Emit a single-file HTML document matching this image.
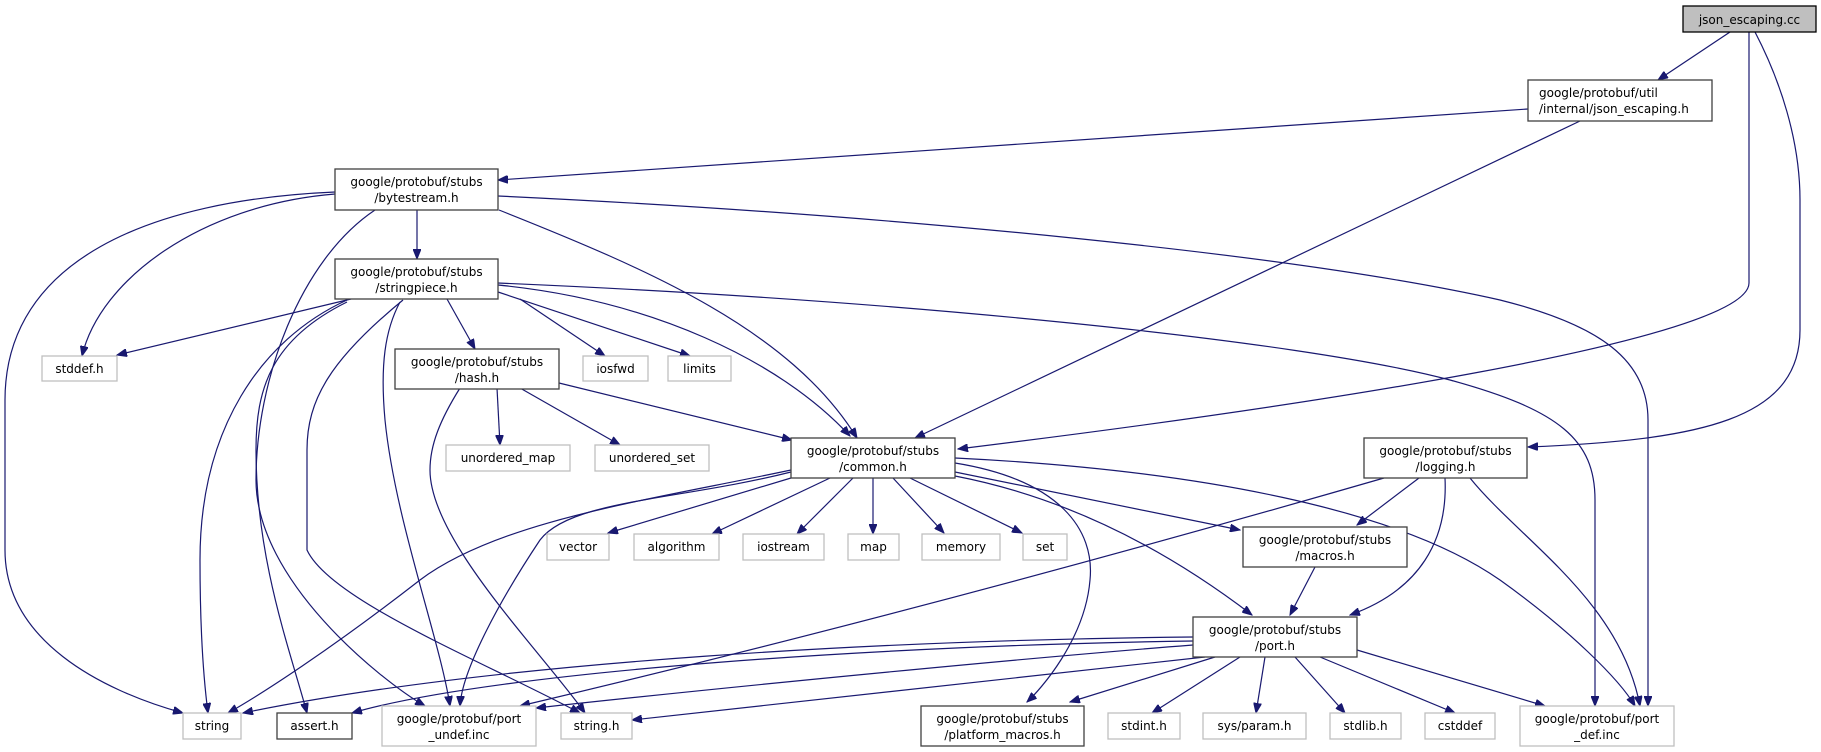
<!DOCTYPE html>
<html><head><meta charset="utf-8"><style>
html,body{margin:0;padding:0;background:#fff;}
svg{display:block;}
text{font-family:"DejaVu Sans","Liberation Sans",sans-serif;font-size:12px;fill:#000;}
.e{fill:none;stroke:#191970;stroke-width:1.2;marker-end:url(#a);}
.n{fill:#fff;stroke:#404040;stroke-width:1.3;}
.g{fill:#fff;stroke:#bfbfbf;stroke-width:1.3;}
</style></head><body>
<svg width="1821" height="752" viewBox="0 0 1821 752" xmlns="http://www.w3.org/2000/svg">
<defs><marker id="a" markerUnits="userSpaceOnUse" markerWidth="11" markerHeight="8" refX="10" refY="4" orient="auto"><path d="M0,0 L10,4 L0,8 z" fill="#191970" stroke="#191970"/></marker></defs>

<!-- edges -->
<path class="e" d="M1730,32 L1658,80"/>
<path class="e" d="M1749,32 L1749,283 C1749,340 1300,407 958,449"/>
<path class="e" d="M1755,32 C1780,80 1800,140 1800,200 L1800,330 C1800,420 1700,440 1528,447"/>
<path class="e" d="M1528,109 L498,180"/>
<path class="e" d="M1580,121 L915,438"/>

<path class="e" d="M417,210 L417,259"/>
<path class="e" d="M335,192 C150,200 5,260 5,400 L5,550 C5,640 100,690 183,713"/>
<path class="e" d="M335,194 C200,205 100,280 82,356"/>
<path class="e" d="M375,210 C300,260 256,380 256,480 C256,580 380,680 425,706"/>
<path class="e" d="M499,210 C650,270 790,330 857,438"/>
<path class="e" d="M498,196 C900,215 1300,255 1500,300 C1600,325 1648,360 1648,420 L1648,706"/>

<path class="e" d="M351,299 L117,355"/>
<path class="e" d="M347,300 C260,340 200,430 200,560 C200,640 205,690 208,713"/>
<path class="e" d="M347,302 C270,340 256,390 256,450 C256,560 290,650 307,713"/>
<path class="e" d="M400,302 C385,330 380,365 385,420 C395,520 440,640 450,706"/>
<path class="e" d="M403,300 C330,360 307,400 307,450 L307,550 C330,600 480,660 580,713"/>
<path class="e" d="M447,299 L475,349"/>
<path class="e" d="M520,299 L605,356"/>
<path class="e" d="M498,292 L690,356"/>
<path class="e" d="M498,285 C650,300 780,360 850,436"/>
<path class="e" d="M498,283 C900,300 1300,340 1450,380 C1560,410 1595,440 1595,500 L1595,706"/>

<path class="e" d="M460,388 C440,420 430,445 430,470 C430,540 540,650 585,713"/>
<path class="e" d="M497,388 L500,445"/>
<path class="e" d="M520,388 L620,445"/>
<path class="e" d="M559,383 L792,440"/>

<path class="e" d="M791,470 C650,500 500,520 420,580 C330,650 260,695 228,713"/>
<path class="e" d="M791,472 C680,500 570,500 540,540 C500,600 462,670 460,706"/>
<path class="e" d="M791,478 L608,533"/>
<path class="e" d="M830,478 L712,534"/>
<path class="e" d="M853,478 L797,534"/>
<path class="e" d="M873,478 L873,534"/>
<path class="e" d="M893,478 L944,533"/>
<path class="e" d="M910,478 L1022,533"/>
<path class="e" d="M955,472 L1240,530"/>
<path class="e" d="M955,476 C1080,500 1180,560 1252,615"/>
<path class="e" d="M955,463 C1060,480 1095,530 1090,580 C1085,640 1040,690 1027,702"/>
<path class="e" d="M955,458 C1200,470 1400,510 1500,580 C1570,630 1620,680 1635,706"/>

<path class="e" d="M1384,478 C1100,560 800,640 520,706"/>
<path class="e" d="M1419,478 L1357,525"/>
<path class="e" d="M1445,478 C1448,540 1420,590 1350,615"/>
<path class="e" d="M1470,478 C1520,540 1620,600 1640,706"/>

<path class="e" d="M1315,567 L1290,615"/>

<path class="e" d="M1193,637 C900,640 500,660 243,713"/>
<path class="e" d="M1193,641 C900,645 500,670 352,713"/>
<path class="e" d="M1193,645 C1000,660 700,690 536,708"/>
<path class="e" d="M1205,657 L632,720"/>
<path class="e" d="M1215,657 L1070,702"/>
<path class="e" d="M1240,657 L1152,713"/>
<path class="e" d="M1265,657 L1256,713"/>
<path class="e" d="M1295,657 L1345,713"/>
<path class="e" d="M1320,657 L1455,713"/>
<path class="e" d="M1357,650 L1545,706"/>

<!-- nodes -->
<rect x="1683" y="6" width="133" height="26" fill="#bfbfbf" stroke="#000" stroke-width="1.3"/>
<text x="1749.5" y="24" text-anchor="middle">json_escaping.cc</text>

<rect class="n" x="1528" y="80" width="184" height="41"/>
<text x="1539" y="97">google/protobuf/util</text>
<text x="1539" y="113">/internal/json_escaping.h</text>

<g text-anchor="middle">
<rect class="n" x="335" y="169" width="163" height="41"/>
<text x="416.5" y="186">google/protobuf/stubs</text><text x="416.5" y="202">/bytestream.h</text>

<rect class="n" x="335" y="259" width="163" height="40"/>
<text x="416.5" y="276">google/protobuf/stubs</text><text x="416.5" y="292">/stringpiece.h</text>

<rect class="g" x="42" y="356" width="75" height="25"/><text x="79.5" y="373">stddef.h</text>

<rect class="n" x="395" y="349" width="164" height="40"/>
<text x="477" y="366">google/protobuf/stubs</text><text x="477" y="382">/hash.h</text>

<rect class="g" x="583" y="356" width="65" height="25"/><text x="615.5" y="373">iosfwd</text>
<rect class="g" x="668" y="356" width="63" height="25"/><text x="699.5" y="373">limits</text>

<rect class="g" x="446" y="445" width="124" height="26"/><text x="508" y="462">unordered_map</text>
<rect class="g" x="595" y="445" width="114" height="26"/><text x="652" y="462">unordered_set</text>

<rect class="n" x="791" y="438" width="164" height="40"/>
<text x="873" y="455">google/protobuf/stubs</text><text x="873" y="471">/common.h</text>

<rect class="n" x="1364" y="438" width="163" height="40"/>
<text x="1445.5" y="455">google/protobuf/stubs</text><text x="1445.5" y="471">/logging.h</text>

<rect class="g" x="547" y="534" width="62" height="26"/><text x="578" y="551">vector</text>
<rect class="g" x="634" y="534" width="85" height="26"/><text x="676.5" y="551">algorithm</text>
<rect class="g" x="743" y="534" width="81" height="26"/><text x="783.5" y="551">iostream</text>
<rect class="g" x="848" y="534" width="51" height="26"/><text x="873.5" y="551">map</text>
<rect class="g" x="922" y="534" width="78" height="26"/><text x="961" y="551">memory</text>
<rect class="g" x="1023" y="534" width="44" height="26"/><text x="1045" y="551">set</text>

<rect class="n" x="1243" y="527" width="164" height="40"/>
<text x="1325" y="544">google/protobuf/stubs</text><text x="1325" y="560">/macros.h</text>

<rect class="n" x="1193" y="617" width="164" height="40"/>
<text x="1275" y="634">google/protobuf/stubs</text><text x="1275" y="650">/port.h</text>

<rect class="g" x="183" y="713" width="58" height="26"/><text x="212" y="730">string</text>
<rect class="n" x="277" y="713" width="75" height="26"/><text x="314.5" y="730">assert.h</text>
<rect class="g" x="382" y="706" width="154" height="40"/>
<text x="459" y="723">google/protobuf/port</text><text x="459" y="739">_undef.inc</text>
<rect class="g" x="561" y="713" width="71" height="26"/><text x="596.5" y="730">string.h</text>
<rect class="n" x="921" y="706" width="163" height="40"/>
<text x="1002.5" y="723">google/protobuf/stubs</text><text x="1002.5" y="739">/platform_macros.h</text>
<rect class="g" x="1108" y="713" width="72" height="26"/><text x="1144" y="730">stdint.h</text>
<rect class="g" x="1203" y="713" width="103" height="26"/><text x="1254.5" y="730">sys/param.h</text>
<rect class="g" x="1330" y="713" width="71" height="26"/><text x="1365.5" y="730">stdlib.h</text>
<rect class="g" x="1425" y="713" width="70" height="26"/><text x="1460" y="730">cstddef</text>
<rect class="g" x="1520" y="706" width="154" height="40"/>
<text x="1597" y="723">google/protobuf/port</text><text x="1597" y="739">_def.inc</text>
</g>
</svg>
</body></html>
